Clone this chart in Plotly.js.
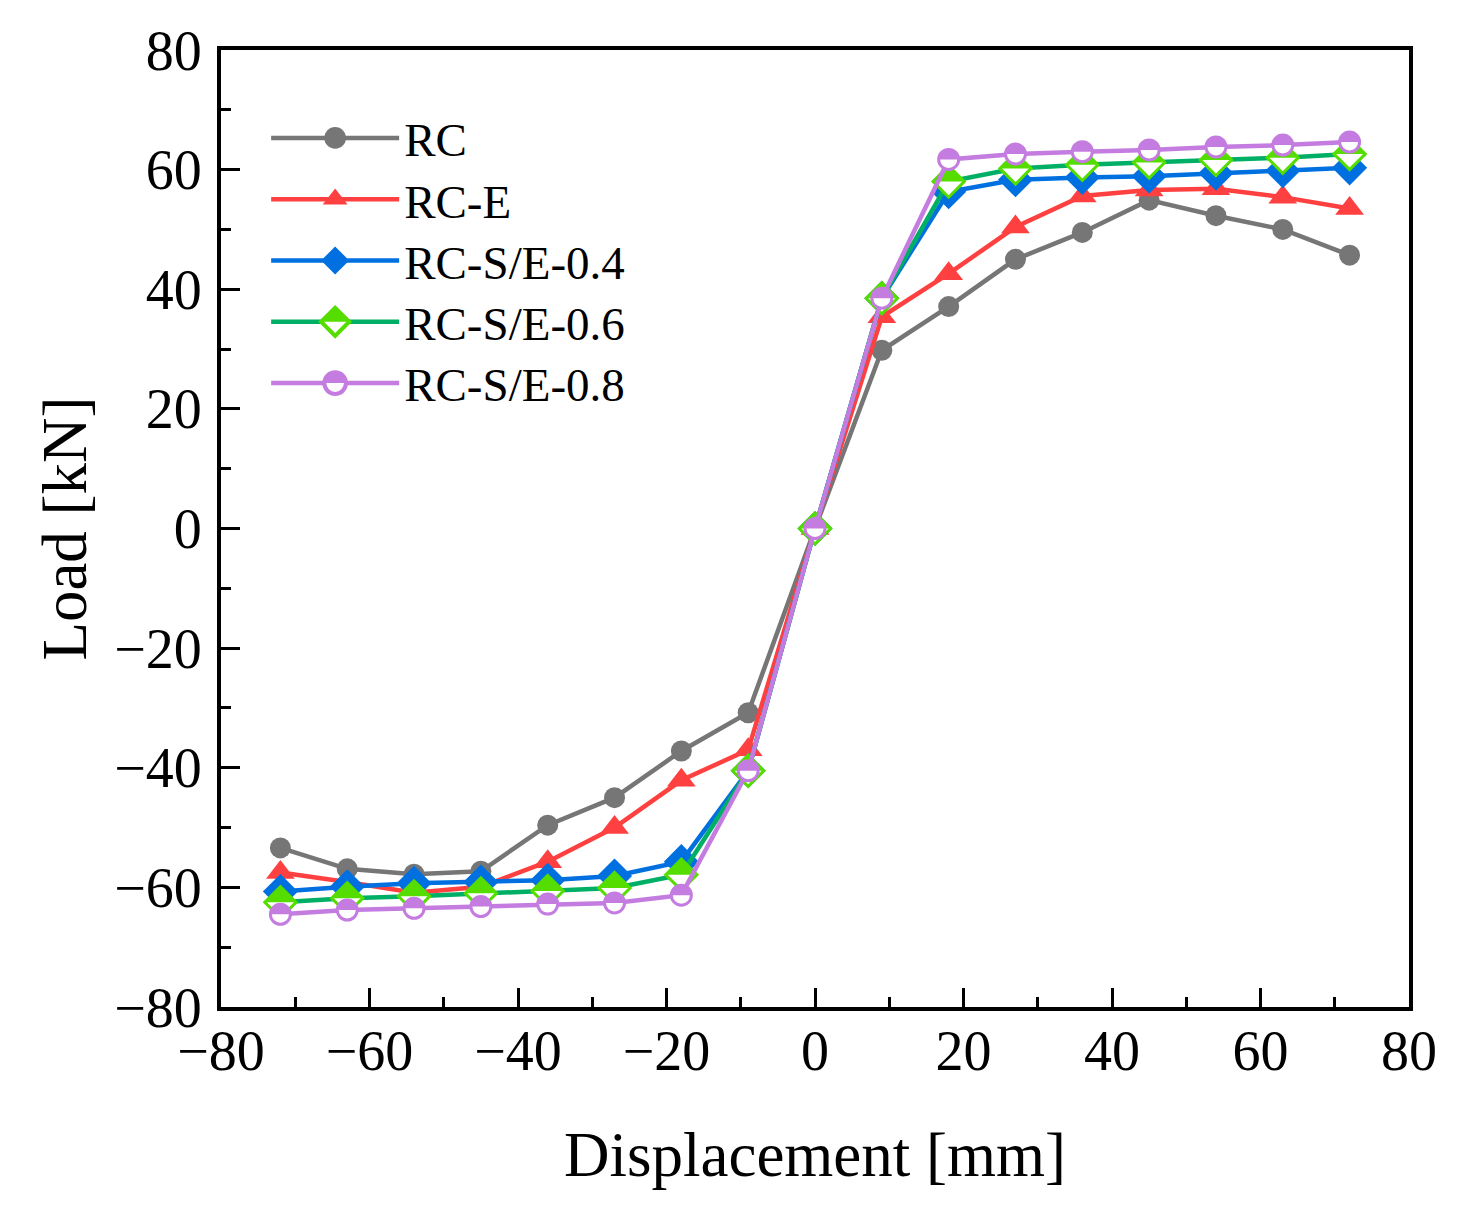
<!DOCTYPE html>
<html>
<head>
<meta charset="utf-8">
<script src="https://cdn.plot.ly/plotly-3.0.1.min.js"></script>
<style>
html,body{margin:0;padding:0;background:#fff;}
#chart{width:1470px;height:1222px;}
</style>
</head>
<body>
<div id="chart"></div>
<script>
// Displacement [mm]
const displacement = [-72, -63, -54, -45, -36, -27, -18, -9, 0, 9, 18, 27, 36, 45, 54, 63, 72];
// Load [kN]
const loadRC      = [-53.4, -56.9, -57.8, -57.3, -49.6, -45.0, -37.2, -30.8, 0, 29.8, 37.1, 45.0, 49.5, 54.9, 52.3, 50.0, 45.7];
const loadRCE     = [-57.5, -59.1, -60.9, -59.9, -55.7, -50.0, -42.1, -37.0, 0, 35.4, 42.6, 50.4, 55.6, 56.6, 56.8, 55.4, 53.5];
const loadRCSE04  = [-60.7, -59.9, -59.3, -59.1, -58.8, -58.1, -55.7, -40.5, 0, 38.5, 56.3, 58.3, 58.7, 58.9, 59.4, 59.8, 60.3];
const loadRCSE06  = [-62.5, -61.8, -61.5, -61.0, -60.6, -60.1, -57.9, -40.5, 0, 38.5, 58.0, 60.2, 60.8, 61.2, 61.6, 62.0, 62.6];
const loadRCSE08  = [-64.5, -63.8, -63.5, -63.2, -62.8, -62.6, -61.3, -40.5, 0, 38.5, 61.7, 62.6, 63.0, 63.3, 63.8, 64.1, 64.6];
const seriesNames = ["RC", "RC-E", "RC-S/E-0.4", "RC-S/E-0.6", "RC-S/E-0.8"];
const tickVals = [-80, -60, -40, -20, 0, 20, 40, 60, 80];

const FONT = "Liberation Serif, Times New Roman, serif";

const traces = [
  {x: displacement, y: loadRC, name: seriesNames[0], mode: "lines+markers",
   line: {color: "#767676", width: 4.5},
   marker: {symbol: "circle", size: 21, color: "#767676"}},
  {x: displacement, y: loadRCE, name: seriesNames[1], mode: "lines+markers",
   line: {color: "#FF4040", width: 4.5},
   marker: {symbol: "triangle-up", size: 25, color: "#FF4040"}},
  {x: displacement, y: loadRCSE04, name: seriesNames[2], mode: "lines+markers",
   line: {color: "#0070E0", width: 4.5},
   marker: {symbol: "diamond", size: 27, color: "#0070E0"}},
  {x: displacement, y: loadRCSE06, name: seriesNames[3], mode: "lines+markers",
   line: {color: "#00AF66", width: 4.5},
   marker: {symbol: "diamond", size: 24, color: "#FFFFFF", line: {color: "#55DD00", width: 3}}},
  {x: displacement, y: loadRCSE08, name: seriesNames[4], mode: "lines+markers",
   line: {color: "#C47CE0", width: 4.5},
   marker: {symbol: "circle", size: 20, color: "#FFFFFF", line: {color: "#C47CE0", width: 3}}}
];

const axisCommon = {
  range: [-80, 80],
  tickvals: tickVals,
  ticks: "inside",
  ticklen: 19,
  tickwidth: 3,
  tickcolor: "#000",
  showline: true,
  linecolor: "#000",
  linewidth: 4,
  mirror: true,
  showgrid: false,
  zeroline: false,
  tickfont: {family: FONT, size: 56, color: "#000"},
  minor: {dtick: 10, ticks: "inside", ticklen: 10, tickwidth: 3, tickcolor: "#000", showgrid: false}
};

const layout = {
  width: 1470,
  height: 1222,
  paper_bgcolor: "#fff",
  plot_bgcolor: "#fff",
  margin: {l: 221, r: 61, t: 50, b: 215},
  font: {family: FONT, color: "#000"},
  xaxis: Object.assign({}, axisCommon, {
    title: {text: "Displacement [mm]", font: {family: FONT, size: 63, color: "#000"}, standoff: 52},
    ticklabelstandoff: -8
  }),
  yaxis: Object.assign({}, axisCommon, {
    title: {text: "Load [kN]", font: {family: FONT, size: 63, color: "#000"}, standoff: 8},
    ticklabelstandoff: 4
  }),
  showlegend: true,
  legend: {
    x: 0.038, y: 0.95, xanchor: "left", yanchor: "top",
    bgcolor: "rgba(0,0,0,0)",
    font: {family: FONT, size: 47, color: "#000"},
    itemwidth: 128,
    tracegroupgap: 0
  }
};

function styleTweaks() {
  const gd = document.getElementById("chart");
  const svg = gd.querySelector("svg.main-svg");
  let defs = svg.querySelector("defs");
  const ns = "http://www.w3.org/2000/svg";
  if (!svg.querySelector("#tophalfclip")) {
    const cp = document.createElementNS(ns, "clipPath");
    cp.setAttribute("id", "tophalfclip");
    cp.setAttribute("clipPathUnits", "objectBoundingBox");
    const r = document.createElementNS(ns, "rect");
    r.setAttribute("x", "0"); r.setAttribute("y", "0");
    r.setAttribute("width", "1"); r.setAttribute("height", "0.5");
    cp.appendChild(r);
    defs.appendChild(cp);
  }
  const fills = {3: "#55DD00", 4: "#C47CE0"};
  const traceGroups = gd.querySelectorAll(".scatterlayer .trace");
  traceGroups.forEach((g, i) => {
    if (!(i in fills)) return;
    g.querySelectorAll(".points path.point").forEach(p => {
      const c = p.cloneNode(true);
      c.style.fill = fills[i];
      c.style.fillOpacity = 1;
      c.style.stroke = "none";
      c.setAttribute("clip-path", "url(#tophalfclip)");
      p.parentNode.insertBefore(c, p.nextSibling);
    });
  });
  const legendItems = gd.querySelectorAll(".legend .traces");
  let y0 = null;
  legendItems.forEach((g, i) => {
    const tr = g.getAttribute("transform") || "";
    const m = tr.match(/translate\(\s*([-\d.]+)[ ,]+([-\d.]+)\s*\)/);
    if (m) {
      const x = parseFloat(m[1]);
      const y = parseFloat(m[2]);
      if (y0 === null) y0 = y + 3;
      g.setAttribute("transform", "translate(" + x + "," + (y0 + i * 61.3) + ")");
    }
    g.querySelectorAll(".legendpoints path.scatterpts").forEach(p => {
      const t = p.getAttribute("transform") || "";
      p.setAttribute("transform", t + " scale(1.35)");
      if (i in fills) {
        const c = p.cloneNode(true);
        c.style.fill = fills[i];
        c.style.fillOpacity = 1;
        c.style.stroke = "none";
        c.setAttribute("clip-path", "url(#tophalfclip)");
        p.parentNode.insertBefore(c, p.nextSibling);
      }
    });
  });
}

Plotly.newPlot("chart", traces, layout, {displayModeBar: false, staticPlot: true}).then(styleTweaks);
</script>
</body>
</html>
